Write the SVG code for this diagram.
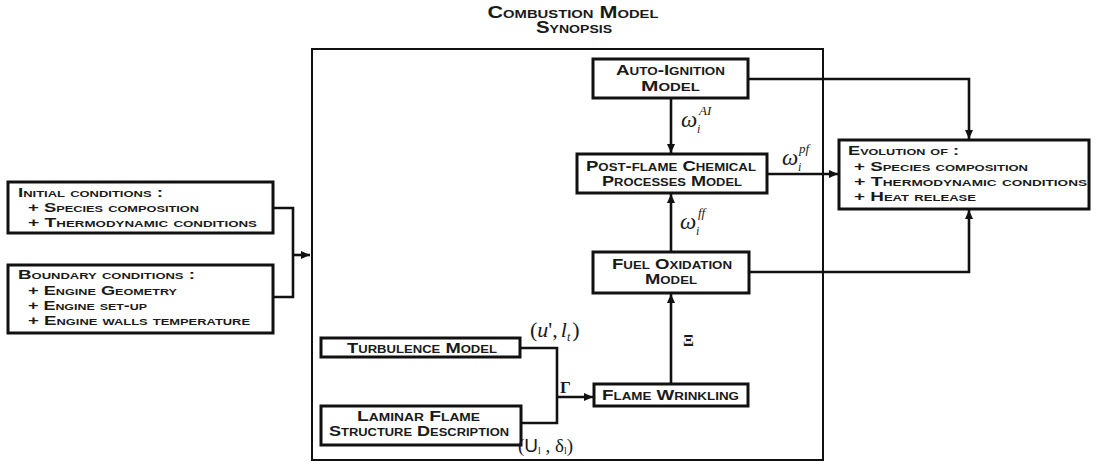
<svg xmlns="http://www.w3.org/2000/svg" width="1099" height="462" viewBox="0 0 1099 462">
<style>
.box{fill:#fff;stroke:#111;stroke-width:3}
.frame{fill:none;stroke:#111;stroke-width:2}
.sc{font-family:"Liberation Sans",Arial,sans-serif;font-weight:bold;font-variant:small-caps;fill:#1a1a1a}
.t14{font-size:14px}
.t13{font-size:13px}
.c{text-anchor:middle}
.ln{fill:none;stroke:#111;stroke-width:2.6}
.m{font-family:"Liberation Serif","Times New Roman",serif;fill:#1a1a1a}
.mi{font-style:italic}
</style>
<defs>
<marker id="ah" markerUnits="userSpaceOnUse" markerWidth="10" markerHeight="8" refX="9" refY="4" orient="auto">
<path d="M0,0 L9,4 L0,8 z" fill="#111"/>
</marker>
</defs>
<rect width="1099" height="462" fill="#fff"/>

<g id="title">
<text class="sc c" x="573" y="18" font-size="16" textLength="171" lengthAdjust="spacingAndGlyphs">Combustion Model</text>
<text class="sc c" x="574" y="33" font-size="16" textLength="76" lengthAdjust="spacingAndGlyphs">Synopsis</text>
</g>

<g id="frame"><rect class="frame" x="312" y="49" width="511" height="411"/></g>

<g id="connectors">
<path class="ln" d="M273,208 H293 V297 H273"/>
<path class="ln" d="M293,255 H310" marker-end="url(#ah)"/>
<path class="ln" d="M671,98 V153" marker-end="url(#ah)"/>
<path class="ln" d="M748,79 H969 V139" marker-end="url(#ah)"/>
<path class="ln" d="M767,174 H838" marker-end="url(#ah)"/>
<path class="ln" d="M671,252 V194" marker-end="url(#ah)"/>
<path class="ln" d="M749,272 H969 V210" marker-end="url(#ah)"/>
<path class="ln" d="M671,384 V294" marker-end="url(#ah)"/>
<path class="ln" d="M520,348 H557 V423 H521"/>
<path class="ln" d="M557,397 H593" marker-end="url(#ah)"/>
</g>

<g id="initial">
<rect class="box" x="8" y="182" width="265" height="51"/>
<text class="sc t13" x="18" y="197" textLength="145" lengthAdjust="spacingAndGlyphs">Initial conditions :</text>
<text class="sc t13" x="28" y="212" textLength="171" lengthAdjust="spacingAndGlyphs">+ Species composition</text>
<text class="sc t13" x="28" y="227" textLength="229" lengthAdjust="spacingAndGlyphs">+ Thermodynamic conditions</text>
</g>

<g id="boundary">
<rect class="box" x="8" y="265" width="265" height="68"/>
<text class="sc t13" x="18" y="279" textLength="177" lengthAdjust="spacingAndGlyphs">Boundary conditions :</text>
<text class="sc t13" x="28" y="295" textLength="149" lengthAdjust="spacingAndGlyphs">+ Engine Geometry</text>
<text class="sc t13" x="28" y="310" textLength="119" lengthAdjust="spacingAndGlyphs">+ Engine set-up</text>
<text class="sc t13" x="28" y="325" textLength="222" lengthAdjust="spacingAndGlyphs">+ Engine walls temperature</text>
</g>

<g id="autoignition">
<rect class="box" x="593" y="59" width="155" height="39"/>
<text class="sc t14 c" x="670.5" y="75" textLength="109" lengthAdjust="spacingAndGlyphs">Auto-Ignition</text>
<text class="sc t14 c" x="670.5" y="91" textLength="59" lengthAdjust="spacingAndGlyphs">Model</text>
</g>

<g id="postflame">
<rect class="box" x="577" y="154" width="190" height="39"/>
<text class="sc t14 c" x="671" y="171" textLength="170" lengthAdjust="spacingAndGlyphs">Post-flame Chemical</text>
<text class="sc t14 c" x="672" y="186" textLength="140" lengthAdjust="spacingAndGlyphs">Processes Model</text>
</g>

<g id="fueloxidation">
<rect class="box" x="593" y="252" width="156" height="41"/>
<text class="sc t14 c" x="672" y="269" textLength="120" lengthAdjust="spacingAndGlyphs">Fuel Oxidation</text>
<text class="sc t14 c" x="671" y="284" textLength="52" lengthAdjust="spacingAndGlyphs">Model</text>
</g>

<g id="flamewrinkling">
<rect class="box" x="594" y="384" width="154" height="22"/>
<text class="sc t14 c" x="670.5" y="400" textLength="137" lengthAdjust="spacingAndGlyphs">Flame Wrinkling</text>
</g>

<g id="turbulence">
<rect class="box" x="321" y="338" width="199" height="19"/>
<text class="sc t14 c" x="422" y="353" textLength="150" lengthAdjust="spacingAndGlyphs">Turbulence Model</text>
</g>

<g id="laminar">
<rect class="box" x="321" y="406" width="200" height="39"/>
<text class="sc t14 c" x="418.5" y="421" textLength="123" lengthAdjust="spacingAndGlyphs">Laminar Flame</text>
<text class="sc t14 c" x="419" y="436" textLength="180" lengthAdjust="spacingAndGlyphs">Structure Description</text>
</g>

<g id="evolution">
<rect class="box" x="839" y="140" width="250" height="69"/>
<text class="sc t13" x="848" y="155" textLength="111" lengthAdjust="spacingAndGlyphs">Evolution of :</text>
<text class="sc t13" x="854" y="171" textLength="174" lengthAdjust="spacingAndGlyphs">+ Species composition</text>
<text class="sc t13" x="854" y="186" textLength="233" lengthAdjust="spacingAndGlyphs">+ Thermodynamic conditions</text>
<text class="sc t13" x="854" y="201" textLength="122" lengthAdjust="spacingAndGlyphs">+ Heat release</text>
</g>

<g id="labels">
<text class="m mi" x="681" y="127" font-size="23">ω</text>
<text class="m mi" x="699" y="115" font-size="13">AI</text>
<text class="m mi" x="697" y="133" font-size="12">i</text>

<text class="m mi" x="782" y="165" font-size="23">ω</text>
<text class="m mi" x="799" y="153" font-size="13">pf</text>
<text class="m mi" x="798" y="171" font-size="12">i</text>

<text class="m mi" x="680" y="229" font-size="23">ω</text>
<text class="m mi" x="698" y="217" font-size="13">ff</text>
<text class="m mi" x="696" y="235" font-size="12">i</text>

<text class="m" x="683" y="346" font-size="16" font-weight="bold">Ξ</text>
<text class="m" x="560" y="393" font-size="17" font-weight="bold">Γ</text>

<text class="m" x="530" y="337" font-size="22">(<tspan font-style="italic">u</tspan>',<tspan font-style="italic" dx="3">l</tspan><tspan font-style="italic" font-size="12" dy="4">t</tspan><tspan dy="-4" dx="2">)</tspan></text>
<text class="m" x="518" y="452" font-size="19">(<tspan font-family="Liberation Sans,Arial,sans-serif">U</tspan><tspan font-size="10" dy="2">l</tspan><tspan dy="-2"> , δ</tspan><tspan font-size="10" dy="2">l</tspan><tspan dy="-2">)</tspan></text>
</g>
</svg>
